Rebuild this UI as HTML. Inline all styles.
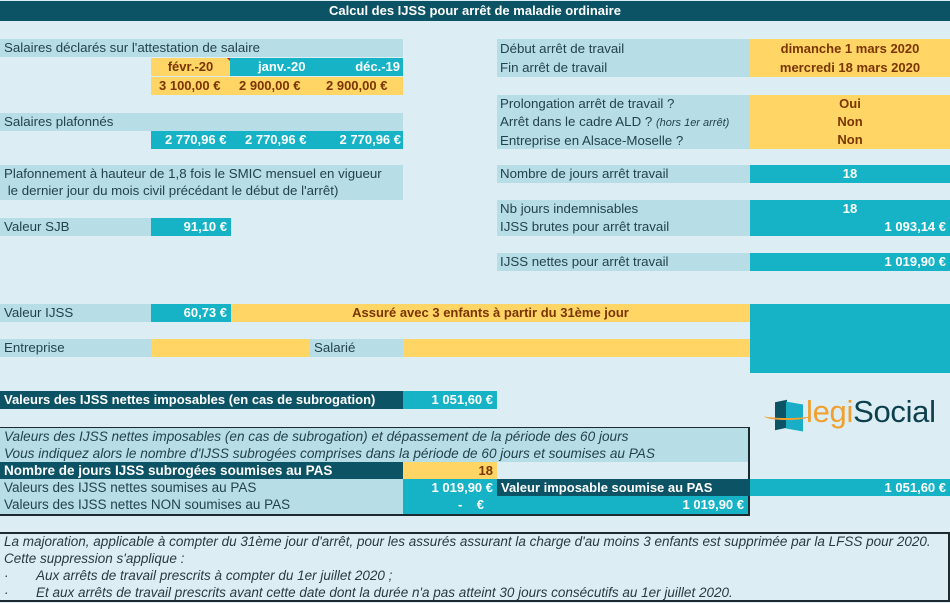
<!DOCTYPE html>
<html><head><meta charset="utf-8"><style>
*{margin:0;padding:0;box-sizing:border-box}
body{width:950px;height:602px;background:#dcedf3;position:relative;overflow:hidden;font-family:"Liberation Sans",Arial,sans-serif;font-size:13px;color:#24424d}
.b{position:absolute;height:18px;line-height:18px;white-space:nowrap;overflow:hidden}
.l{background:#b7dde7;padding-left:4px}
.c{background:#16b3c7;color:#fff;font-weight:bold}
.o{background:#ffd566;color:#7a3500;font-weight:bold}
.d{background:#0d5366;color:#fff;font-weight:bold;padding-left:4px}
.r{text-align:right;padding-right:4px}
.m{text-align:center}
.i{font-style:italic}
</style></head><body>
<div class="b d m" style="left:0;top:1px;width:950px;height:20px;line-height:20px;padding:0">Calcul des IJSS pour arrêt de maladie ordinaire</div>

<div class="b l" style="left:0;top:39px;width:403px;font-size:13.3px">Salaires déclarés sur l'attestation de salaire</div>
<div class="b o m" style="left:151px;top:58px;width:79px">févr.-20</div>
<div style="position:absolute;left:227px;top:58px;width:0;height:0;border-top:5px solid #d02020;border-left:5px solid transparent"></div>
<div class="b c r" style="left:230px;top:58px;width:173px;padding:0"><span style="position:absolute;left:28px">janv.-20</span><span style="position:absolute;right:3px">déc.-19</span></div>
<div class="b o" style="left:151px;top:77px;width:252px"><span style="position:absolute;left:8px">3 100,00 €</span><span style="position:absolute;left:88px">2 900,00 €</span><span style="position:absolute;left:175px">2 900,00 €</span></div>

<div class="b l" style="left:0;top:113px;width:403px;font-size:13.3px">Salaires plafonnés</div>
<div class="b c" style="left:151px;top:131px;width:252px"><span style="position:absolute;left:14px">2 770,96 €</span><span style="position:absolute;left:94px">2 770,96 €</span><span style="position:absolute;right:2px">2 770,96 €</span></div>

<div class="b l" style="left:0;top:165px;width:403px;height:35px;line-height:17px;white-space:normal;font-size:13.3px">Plafonnement à hauteur de 1,8 fois le SMIC mensuel en vigueur<br>&nbsp;le dernier jour du mois civil précédant le début de l'arrêt)</div>

<div class="b l" style="left:0;top:218px;width:151px;font-size:13.3px">Valeur SJB</div>
<div class="b c r" style="left:151px;top:218px;width:80px">91,10 €</div>

<div class="b l" style="left:497px;top:39px;width:253px;height:38px;line-height:19px;white-space:normal;padding-left:3px;font-size:13.3px">Début arrêt de travail<br>Fin arrêt de travail</div>
<div class="b o m" style="left:750px;top:39px;width:200px;height:38px;line-height:19px;white-space:normal">dimanche 1 mars 2020<br>mercredi 18 mars 2020</div>

<div class="b l" style="left:497px;top:95px;width:253px;height:54px;line-height:18px;white-space:normal;padding-left:3px;font-size:13.3px">Prolongation arrêt de travail ?<br>Arrêt dans le cadre ALD ? <i style="font-size:11px">(hors 1er arrêt)</i><br>Entreprise en Alsace-Moselle ?</div>
<div class="b o m" style="left:750px;top:95px;width:200px;height:54px;line-height:18px;white-space:normal">Oui<br>Non<br>Non</div>

<div class="b l" style="left:497px;top:165px;width:253px;padding-left:3px;font-size:13.3px">Nombre de jours arrêt travail</div>
<div class="b c m" style="left:750px;top:165px;width:200px">18</div>

<div class="b l" style="left:497px;top:200px;width:253px;height:36px;white-space:normal;padding-left:3px;font-size:13.3px">Nb jours indemnisables<br>IJSS brutes pour arrêt travail</div>
<div class="b c" style="left:750px;top:200px;width:200px;height:36px"><div class="m">18</div><div class="r">1 093,14 €</div></div>

<div class="b l" style="left:497px;top:253px;width:253px;padding-left:3px;font-size:13.3px">IJSS nettes pour arrêt travail</div>
<div class="b c r" style="left:750px;top:253px;width:200px">1 019,90 €</div>

<div class="b l" style="left:0;top:304px;width:151px;font-size:13.3px">Valeur IJSS</div>
<div class="b c r" style="left:151px;top:304px;width:80px">60,73 €</div>
<div class="b o m" style="left:231px;top:304px;width:519px">Assuré avec 3 enfants à partir du 31ème jour</div>
<div class="b c" style="left:750px;top:304px;width:200px;height:69px"></div>

<div class="b l" style="left:0;top:339px;width:151px;font-size:13.3px">Entreprise</div>
<div class="b o" style="left:151px;top:339px;width:159px"></div>
<div class="b l" style="left:310px;top:339px;width:93px;font-size:13.3px">Salarié</div>
<div class="b o" style="left:403px;top:339px;width:347px"></div>

<div class="b d" style="left:0;top:391px;width:403px">Valeurs des IJSS nettes imposables (en cas de subrogation)</div>
<div class="b c r" style="left:403px;top:391px;width:94px">1 051,60 €</div>

<div style="position:absolute;left:775px;top:401px;width:12px;height:28px;background:#0d5366;transform:skewY(-12deg)"></div>
<div style="position:absolute;left:786px;top:403px;width:17px;height:27px;background:#1aaec6;transform:skewY(10deg)"></div>
<div style="position:absolute;left:764px;top:412px;width:46px;height:8px;border-bottom:2px solid #f0a030;border-radius:50%"></div>
<div style="position:absolute;left:806px;top:394px;font-size:31px;line-height:36px;white-space:nowrap;letter-spacing:-0.3px"><span style="color:#f0a030">legi</span><span style="color:#0d3f4d">Social</span></div>

<div style="position:absolute;left:0;top:427px;width:750px;height:89px;border:2px solid #1d2b30;border-left:none"></div>
<div class="b l i" style="left:0;top:428px;width:748px;height:34px;line-height:17px;white-space:normal;font-size:13.6px">Valeurs des IJSS nettes imposables (en cas de subrogation) et dépassement de la période des 60 jours<br>Vous indiquez alors le nombre d'IJSS subrogées comprises dans la période de 60 jours et soumises au PAS</div>
<div class="b d" style="left:0;top:462px;width:403px;height:17px;line-height:17px;font-size:13.5px">Nombre de jours IJSS subrogées soumises au PAS</div>
<div class="b o r" style="left:403px;top:462px;width:94px;height:17px;line-height:17px">18</div>
<div class="b l" style="left:0;top:479px;width:403px;height:17px;line-height:17px;font-size:13.5px">Valeurs des IJSS nettes soumises au PAS</div>
<div class="b c r" style="left:403px;top:479px;width:94px;height:17px;line-height:17px">1 019,90 €</div>
<div class="b d" style="left:497px;top:479px;width:253px;height:17px;line-height:17px">Valeur imposable soumise au PAS</div>
<div class="b c r" style="left:750px;top:479px;width:200px;height:17px;line-height:17px">1 051,60 €</div>
<div class="b l" style="left:0;top:496px;width:403px;height:18px;font-size:13.5px">Valeurs des IJSS nettes NON soumises au PAS</div>
<div class="b c" style="left:403px;top:496px;width:345px;height:18px"><span style="position:absolute;left:55px">-&nbsp;&nbsp;&nbsp;&nbsp;€</span><span style="position:absolute;right:4px">1 019,90 €</span></div>

<div style="position:absolute;left:0;top:532px;width:950px;height:70px;border:2px solid #1d2b30;border-left:none;background:#dcedf3"></div>
<div class="b i" style="left:4px;top:533px;width:945px;height:70px;line-height:17px;white-space:normal;color:#2a3a40;font-size:13.5px">La majoration, applicable à compter du 31ème jour d'arrêt, pour les assurés assurant la charge d'au moins 3 enfants est supprimée par la LFSS pour 2020.<br>Cette suppression s'applique :<br><span style="display:inline-block;width:32px">·</span>Aux arrêts de travail prescrits à compter du 1er juillet 2020 ;<br><span style="display:inline-block;width:32px">·</span>Et aux arrêts de travail prescrits avant cette date dont la durée n'a pas atteint 30 jours consécutifs au 1er juillet 2020.</div>
</body></html>
